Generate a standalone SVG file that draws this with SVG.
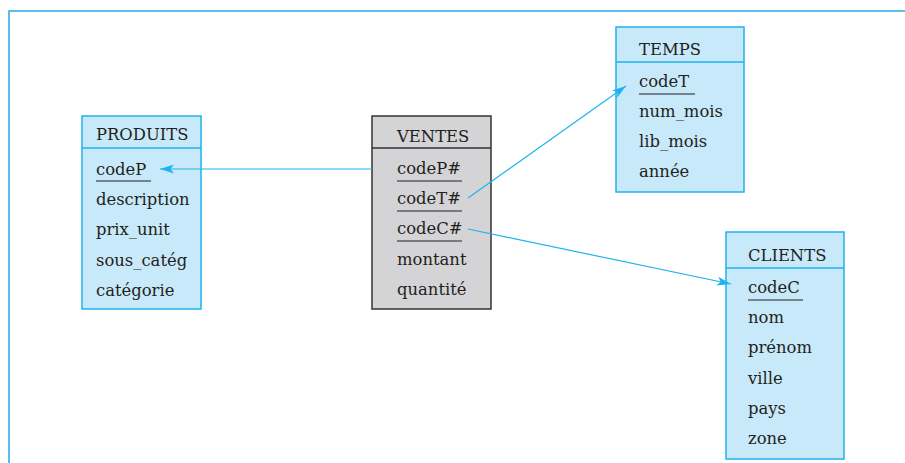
<svg xmlns="http://www.w3.org/2000/svg" width="905" height="463" viewBox="0 0 905 463">
  <style>
    .frame { fill: none; stroke: #29abe2; stroke-width: 1.5; }
    .ent { fill: #c8e9f9; stroke: #1fb3ec; stroke-width: 1.5; }
    .fact { fill: #d4d4d6; stroke: #333333; stroke-width: 1.5; }
    .sep-ent { stroke: #1fb3ec; stroke-width: 1.5; }
    .sep-fact { stroke: #333333; stroke-width: 1.5; }
    .key { stroke: #231f20; stroke-width: 1.2; }
    text { font-family: "DejaVu Serif", "Liberation Serif", serif; font-size: 16.4px; fill: #231f20; }
    .link { fill: none; stroke: #1fb3ec; stroke-width: 1.2; marker-end: url(#arrow); }
  </style>
  <defs>
    <marker id="arrow" viewBox="0 0 14 9" refX="14" refY="4.5" markerWidth="14" markerHeight="9" markerUnits="userSpaceOnUse" orient="auto">
      <path d="M0,0 L14,4.5 L0,9 L3.5,4.5 Z" fill="#1fb3ec"/>
    </marker>
  </defs>

  <!-- outer frame -->
  <path class="frame" d="M9,463 V11 H905"/>

  <!-- PRODUITS dimension table -->
  <g id="produits">
    <rect class="ent" x="82" y="116" width="119" height="193"/>
    <line class="sep-ent" x1="82" y1="148" x2="201" y2="148"/>
    <text x="96" y="140">PRODUITS</text>
    <text x="96" y="175">codeP</text>
    <line class="key" x1="96" y1="181" x2="151" y2="181"/>
    <text x="96" y="205">description</text>
    <text x="96" y="235">prix_unit</text>
    <text x="96" y="266">sous_catég</text>
    <text x="96" y="296">catégorie</text>
  </g>

  <!-- VENTES fact table -->
  <g id="ventes">
    <rect class="fact" x="372" y="116" width="119" height="193"/>
    <line class="sep-fact" x1="372" y1="148" x2="491" y2="148"/>
    <text x="397" y="142">VENTES</text>
    <text x="397" y="174">codeP#</text>
    <line class="key" x1="397" y1="181" x2="462" y2="181"/>
    <text x="397" y="204">codeT#</text>
    <line class="key" x1="397" y1="211" x2="462" y2="211"/>
    <text x="397" y="234">codeC#</text>
    <line class="key" x1="397" y1="241" x2="462" y2="241"/>
    <text x="397" y="265">montant</text>
    <text x="397" y="295">quantité</text>
  </g>

  <!-- TEMPS dimension table -->
  <g id="temps">
    <rect class="ent" x="616" y="27" width="128" height="165"/>
    <line class="sep-ent" x1="616" y1="62" x2="744" y2="62"/>
    <text x="639" y="55">TEMPS</text>
    <text x="639" y="87">codeT</text>
    <line class="key" x1="639" y1="94" x2="695" y2="94"/>
    <text x="639" y="117">num_mois</text>
    <text x="639" y="147">lib_mois</text>
    <text x="639" y="177">année</text>
  </g>

  <!-- CLIENTS dimension table -->
  <g id="clients">
    <rect class="ent" x="726" y="232" width="118" height="227"/>
    <line class="sep-ent" x1="726" y1="268" x2="844" y2="268"/>
    <text x="748" y="261">CLIENTS</text>
    <text x="748" y="293">codeC</text>
    <line class="key" x1="748" y1="300" x2="803" y2="300"/>
    <text x="748" y="323">nom</text>
    <text x="748" y="353">prénom</text>
    <text x="748" y="384">ville</text>
    <text x="748" y="414">pays</text>
    <text x="748" y="444">zone</text>
  </g>

  <!-- foreign key links -->
  <g id="links">
    <line class="link" x1="372" y1="169" x2="160" y2="169"/>
    <line class="link" x1="468" y1="198" x2="626" y2="86"/>
    <line class="link" x1="468" y1="229" x2="731" y2="284"/>
  </g>
</svg>
